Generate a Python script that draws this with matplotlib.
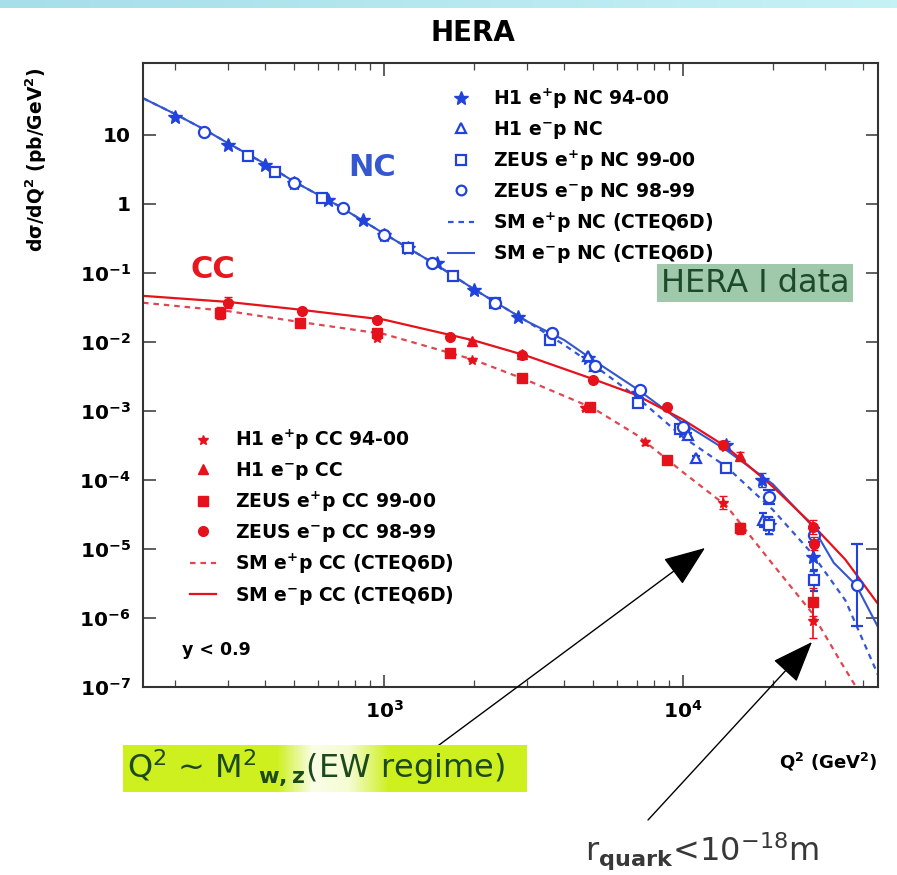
import numpy as np
import matplotlib
matplotlib.use('Agg')
import matplotlib.pyplot as plt
from matplotlib.lines import Line2D
from matplotlib.ticker import NullFormatter
import matplotlib.colors as mcolors

# ---- data (Q2 in GeV^2, dsigma/dQ2 in pb/GeV^2) ----
# NC data
h1_ep_nc_q2 = [200, 300, 400, 500, 650, 850, 1000, 1200, 1500, 2000, 2800, 4800,
               7100, 10000, 14000, 18400, 19500, 27200]
h1_ep_nc_sig = [18, 7.2, 3.7, 2.0, 1.15, 0.59, 0.36, 0.23, 0.14, 0.057, 0.023, 0.0059,
                0.0018, 5.2e-4, 3.2e-4, 1.0e-4, 2.2e-5, 7.6e-6]
h1_ep_nc_err = [0, 0, 0, 0, 0, 0, 0, 0, 0, 0, 0, 0, 0, 0.03, 0.06, 0.1, 0.12, 0.2]

h1_em_nc_q2 = [4800, 5100, 10400, 11100, 18600]
h1_em_nc_sig = [0.0062, 0.0045, 4.5e-4, 2.1e-4, 2.6e-5]
h1_em_nc_err = [0, 0, 0.03, 0.03, 0.1]

zeus_ep_nc_q2 = [350, 430, 620, 1200, 1700, 2350, 3600, 7100, 9800, 14000, 19500, 27500]
zeus_ep_nc_sig = [5.0, 2.9, 1.22, 0.23, 0.091, 0.037, 0.0107, 0.0013, 5.5e-4, 1.5e-4,
                  2.2e-5, 3.5e-6]
zeus_ep_nc_err = [0, 0, 0, 0, 0, 0, 0, 0, 0.03, 0.05, 0.12, 0.15]

zeus_em_nc_q2 = [250, 500, 730, 1000, 1450, 2350, 3650, 5100, 7200, 10000, 19400, 27500, 38200]
zeus_em_nc_sig = [11, 2.0, 0.87, 0.36, 0.14, 0.037, 0.0135, 0.0045, 0.0020, 5.8e-4,
                  5.6e-5, 1.6e-5, 3.0e-6]
zeus_em_nc_err = [0, 0, 0, 0, 0, 0, 0, 0, 0, 0, 0.1, 0.1, 0.6]

# CC data
h1_ep_cc_q2 = [950, 1970, 4700, 7470, 13600, 27200]
h1_ep_cc_sig = [0.0115, 0.0055, 0.0011, 3.5e-4, 4.7e-5, 9.0e-7]
h1_ep_cc_err = [0.02, 0.02, 0.03, 0.04, 0.1, 0.25]

h1_em_cc_q2 = [1970, 2900, 15500]
h1_em_cc_sig = [0.0103, 0.0066, 2.2e-4]
h1_em_cc_err = [0.02, 0.02, 0.06]

zeus_ep_cc_q2 = [282, 523, 947, 1660, 2900, 4900, 8850, 15500, 27200]
zeus_ep_cc_sig = [0.026, 0.019, 0.0135, 0.0069, 0.0030, 0.00115, 1.95e-4, 2.0e-5, 1.7e-6]
zeus_ep_cc_err = [0.09, 0.04, 0.03, 0.02, 0.02, 0.03, 0.04, 0.08, 0.2]

zeus_em_cc_q2 = [300, 532, 947, 1660, 2900, 5000, 8850, 13600, 27200, 27500]
zeus_em_cc_sig = [0.037, 0.028, 0.021, 0.0118, 0.0065, 0.0028, 1.15e-3, 3.2e-4, 2.1e-5, 1.2e-5]
zeus_em_cc_err = [0.08, 0.04, 0.03, 0.02, 0.02, 0.03, 0.04, 0.06, 0.1, 0.1]

# SM curves (CTEQ6D)
sm_nc_em_q2 = [156, 200, 250, 300, 400, 500, 700, 1000, 1500, 2000, 3000, 4000, 5000,
               7000, 10000, 14000, 20000, 27000, 32000, 38000, 45000]
sm_nc_em_sig = [34, 20, 12, 7.6, 3.8, 2.1, 0.95, 0.37, 0.13, 0.058, 0.020, 0.0107, 0.0055,
                0.0021, 6.7e-4, 2.7e-4, 8.7e-5, 2.2e-5, 6.3e-6, 3.0e-6, 7.4e-7]
sm_nc_ep_q2 = [156, 200, 250, 300, 400, 500, 700, 1000, 1500, 2000, 3000, 4000, 5000,
               7000, 10000, 14000, 20000, 27000, 35000, 45000]
sm_nc_ep_sig = [34, 20, 12, 7.6, 3.8, 2.1, 0.95, 0.37, 0.13, 0.058, 0.020, 0.0091, 0.0047,
                0.0016, 4.2e-4, 1.55e-4, 3.7e-5, 8.7e-6, 1.8e-6, 1.5e-7]
sm_cc_em_q2 = [156, 300, 500, 1000, 2000, 3000, 5000, 7000, 10000, 14000, 20000, 27000,
               35000, 45000]
sm_cc_em_sig = [0.0465, 0.038, 0.030, 0.021, 0.0105, 0.0063, 0.0029, 0.0017, 7.5e-4, 3.0e-4,
                8.0e-5, 2.3e-5, 7.0e-6, 1.6e-6]
sm_cc_ep_q2 = [156, 300, 500, 1000, 2000, 3000, 5000, 7000, 10000, 14000, 20000, 27000,
               34000, 38000]
sm_cc_ep_sig = [0.037, 0.028, 0.020, 0.013, 0.0055, 0.0028, 0.0011, 4.5e-4, 1.3e-4, 4.2e-5,
                6.0e-6, 1.2e-6, 2.2e-7, 1.0e-7]

ytick_vals = [1e-7, 1e-6, 1e-5, 1e-4, 1e-3, 1e-2, 1e-1, 1, 10]
ytick_text = [r'$\mathbf{10^{-7}}$', r'$\mathbf{10^{-6}}$', r'$\mathbf{10^{-5}}$',
              r'$\mathbf{10^{-4}}$', r'$\mathbf{10^{-3}}$', r'$\mathbf{10^{-2}}$',
              r'$\mathbf{10^{-1}}$', '1', '10']
xtick_vals = [1e3, 1e4]
xtick_text = [r'$\mathbf{10^{3}}$', r'$\mathbf{10^{4}}$']

W, H = 897, 875
BLUE = '#2143dc'
BLUE_L = '#3556d2'
RED = '#e5121c'
RED_D = '#e0464f'

plt.rcParams['font.family'] = 'DejaVu Sans'
plt.rcParams['mathtext.fontset'] = 'dejavusans'


def px(x, y):
    return x / W, 1 - y / H


def errs(sig, dex):
    s = np.array(sig)
    d = np.array(dex)
    return [s - s / 10 ** d, s * 10 ** d - s]


fig = plt.figure(figsize=(W / 100, H / 100), dpi=100)
ax = fig.add_axes([143 / W, 1 - 687 / H, 735 / W, 624 / H])
ax.set_xscale('log')
ax.set_yscale('log')

# model curves
ax.plot(sm_nc_ep_q2, sm_nc_ep_sig, color=BLUE_L, lw=1.6, dashes=(2.5, 2.2), zorder=2)
ax.plot(sm_nc_em_q2, sm_nc_em_sig, color=BLUE_L, lw=1.5, zorder=2)
ax.plot(sm_cc_ep_q2, sm_cc_ep_sig, color=RED_D, lw=1.6, dashes=(2.5, 2.2), zorder=2)
ax.plot(sm_cc_em_q2, sm_cc_em_sig, color=RED, lw=1.6, zorder=2)

# NC data
ax.errorbar(h1_ep_nc_q2, h1_ep_nc_sig, yerr=errs(h1_ep_nc_sig, h1_ep_nc_err), fmt='*',
            color=BLUE, ms=10, capsize=3, elinewidth=1.3, zorder=4)
ax.errorbar(h1_em_nc_q2, h1_em_nc_sig, yerr=errs(h1_em_nc_sig, h1_em_nc_err), fmt='^',
            color=BLUE, mfc='white', mew=1.6, ms=7, capsize=3, elinewidth=1.3, zorder=4)
ax.errorbar(zeus_ep_nc_q2, zeus_ep_nc_sig, yerr=errs(zeus_ep_nc_sig, zeus_ep_nc_err), fmt='s',
            color=BLUE, mfc='white', mew=1.6, ms=7, capsize=3, elinewidth=1.3, zorder=4)
ax.errorbar(zeus_em_nc_q2, zeus_em_nc_sig, yerr=errs(zeus_em_nc_sig, zeus_em_nc_err), fmt='o',
            color=BLUE, mfc='white', mew=1.6, ms=8, capsize=4, elinewidth=1.5, zorder=4)

# CC data
ax.errorbar(h1_ep_cc_q2, h1_ep_cc_sig, yerr=errs(h1_ep_cc_sig, h1_ep_cc_err), fmt='*',
            color=RED, ms=7, capsize=3, elinewidth=1.2, zorder=5)
ax.errorbar(h1_em_cc_q2, h1_em_cc_sig, yerr=errs(h1_em_cc_sig, h1_em_cc_err), fmt='^',
            color=RED, ms=7, capsize=3, elinewidth=1.2, zorder=5)
ax.errorbar(zeus_ep_cc_q2, zeus_ep_cc_sig, yerr=errs(zeus_ep_cc_sig, zeus_ep_cc_err), fmt='s',
            color=RED, ms=7, capsize=3, elinewidth=1.2, zorder=5)
ax.errorbar(zeus_em_cc_q2, zeus_em_cc_sig, yerr=errs(zeus_em_cc_sig, zeus_em_cc_err), fmt='o',
            color=RED, ms=7, capsize=3, elinewidth=1.2, zorder=5)

ax.set_xlim(156, 45000)
ax.set_ylim(1e-7, 110)
ax.set_xticks(xtick_vals)
ax.set_xticklabels(xtick_text)
ax.set_yticks(ytick_vals)
ax.set_yticklabels(ytick_text)
ax.xaxis.set_minor_formatter(NullFormatter())
ax.yaxis.set_minor_formatter(NullFormatter())
ax.tick_params(which='both', direction='in', top=True, right=True, color='#444444')
ax.tick_params(which='major', length=9, width=1.2, labelsize=14.5, pad=9)
ax.tick_params(which='minor', length=5, width=0.9)
for lab in ax.get_xticklabels() + ax.get_yticklabels():
    lab.set_fontweight('bold')
for sp in ax.spines.values():
    sp.set_linewidth(1.5)
    sp.set_color('#333333')

# legends
leg_font = {'family': 'DejaVu Sans', 'weight': 'bold', 'size': 13.5}
nc_handles = [
    Line2D([], [], ls='none', marker='*', color=BLUE, ms=10),
    Line2D([], [], ls='none', marker='^', color=BLUE, mfc='white', mew=1.6, ms=7),
    Line2D([], [], ls='none', marker='s', color=BLUE, mfc='white', mew=1.6, ms=7),
    Line2D([], [], ls='none', marker='o', color=BLUE, mfc='white', mew=1.6, ms=7),
    Line2D([], [], color=BLUE_L, lw=1.6, dashes=(2.5, 2.2)),
    Line2D([], [], color=BLUE_L, lw=1.5),
]
nc_labels = [r'H1 e$^{\mathbf{+}}$p NC 94-00', r'H1 e$^{\mathbf{-}}$p NC',
             r'ZEUS e$^{\mathbf{+}}$p NC 99-00', r'ZEUS e$^{\mathbf{-}}$p NC 98-99',
             r'SM e$^{\mathbf{+}}$p NC (CTEQ6D)', r'SM e$^{\mathbf{-}}$p NC (CTEQ6D)']
cc_handles = [
    Line2D([], [], ls='none', marker='*', color=RED, ms=7),
    Line2D([], [], ls='none', marker='^', color=RED, ms=7),
    Line2D([], [], ls='none', marker='s', color=RED, ms=7),
    Line2D([], [], ls='none', marker='o', color=RED, ms=7),
    Line2D([], [], color=RED_D, lw=1.6, dashes=(2.5, 2.2)),
    Line2D([], [], color=RED, lw=1.6),
]
cc_labels = [r'H1 e$^{\mathbf{+}}$p CC 94-00', r'H1 e$^{\mathbf{-}}$p CC',
             r'ZEUS e$^{\mathbf{+}}$p CC 99-00', r'ZEUS e$^{\mathbf{-}}$p CC 98-99',
             r'SM e$^{\mathbf{+}}$p CC (CTEQ6D)', r'SM e$^{\mathbf{-}}$p CC (CTEQ6D)']

leg1 = ax.legend(nc_handles, nc_labels, loc='upper left', bbox_to_anchor=(0.415, 0.962),
                 frameon=False, prop=leg_font, handlelength=1.4, handletextpad=1.0,
                 labelspacing=0.42, borderpad=0, borderaxespad=0)
ax.add_artist(leg1)
ax.legend(cc_handles, cc_labels, loc='upper left', bbox_to_anchor=(0.064, 0.415),
          frameon=False, prop=leg_font, handlelength=1.4, handletextpad=1.0,
          labelspacing=0.42, borderpad=0, borderaxespad=0)

# texts on the plot
fig.text(*px(473, 33), 'HERA', ha='center', va='center', fontsize=20, fontweight='bold')
fig.text(*px(36, 160), r'd$\mathbf{\sigma}$/dQ$^{\mathbf{2}}$ (pb/GeV$^{\mathbf{2}}$)',
         rotation=90, ha='center', va='center', fontsize=13.5, fontweight='bold')
fig.text(*px(828, 762), r'Q$^{\mathbf{2}}$ (GeV$^{\mathbf{2}}$)', ha='center', va='center',
         fontsize=13, fontweight='bold')
fig.text(*px(372, 168), 'NC', ha='center', va='center', fontsize=22, fontweight='bold',
         color='#3558d0')
fig.text(*px(213, 270), 'CC', ha='center', va='center', fontsize=22, fontweight='bold',
         color='#e8161e')
fig.text(*px(216, 650), 'y < 0.9', ha='center', va='center', fontsize=12.5, fontweight='bold')
fig.text(*px(755, 283), 'HERA I data', ha='center', va='center', fontsize=23,
         color='#1c4a2b', bbox=dict(boxstyle='square,pad=0.12', fc='#a0c8ab', ec='none'))

# slide decorations
band = fig.add_axes([0, 1 - 8 / H, 1, 8 / H])
c0 = np.array(mcolors.to_rgb('#a6deea'))
c1 = np.array(mcolors.to_rgb('#c6f2f6'))
t = np.linspace(0, 1, 200)[None, :, None]
band.imshow(c0 + (c1 - c0) * t, aspect='auto')
band.axis('off')

hl = fig.add_axes([123 / W, 1 - 792 / H, 404 / W, 47 / H])
stops_x = [0.0, 0.38, 0.47, 0.56, 0.66, 1.0]
stops_a = [1.0, 1.0, 0.1, 0.2, 1.0, 1.0]
yg = np.array(mcolors.to_rgb('#cdf01e'))
xs = np.linspace(0, 1, 300)
a = np.interp(xs, stops_x, stops_a)[None, :, None]
hl.imshow(np.ones(3) * (1 - a) + yg * a, aspect='auto')
hl.axis('off')
fig.text(*px(127, 768), r'Q$^2$ ~ M$^2$$_{\mathbf{w,z}}$(EW regime)', ha='left', va='center',
         fontsize=23, color='#1d4a1d')
fig.text(*px(585, 851), r'r$_{\mathbf{quark}}$<10$^{\mathrm{-18}}$m', ha='left', va='center',
         fontsize=23, color='#383838')

arrow = dict(arrowstyle='-|>,head_length=2.2,head_width=0.85', color='black', lw=1.0,
             shrinkA=0, shrinkB=0, mutation_scale=12)
ax.annotate('', xy=(705, H - 548), xycoords='figure pixels', xytext=(435, H - 748),
            textcoords='figure pixels', arrowprops=arrow, annotation_clip=False)
ax.annotate('', xy=(812, H - 642), xycoords='figure pixels', xytext=(648, H - 820),
            textcoords='figure pixels', arrowprops=arrow, annotation_clip=False)

fig.savefig('out.png', dpi=100)
